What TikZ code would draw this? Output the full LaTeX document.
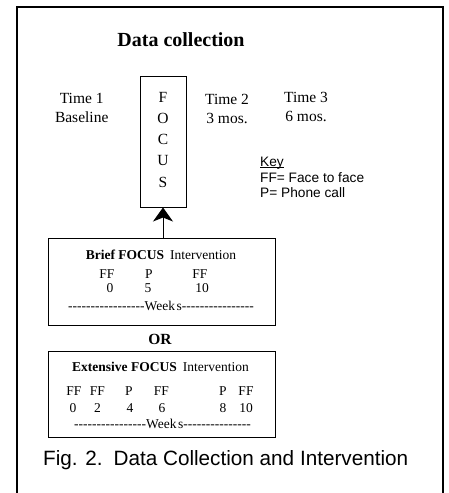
\documentclass[tikz,border=0pt]{standalone}
\usepackage{fontspec}
\setmainfont{Liberation Serif}
\setsansfont{Liberation Sans}
\usetikzlibrary{arrows.meta,positioning}
\newcommand{\hyph}[1]{\foreach \k in {1,...,#1}{-\kern0pt}}

\begin{document}
\begin{tikzpicture}[x=1pt,y=-1pt,
  lbl/.style={inner sep=0pt,anchor=base,font=\fontsize{15.5}{18}\selectfont},
  sm/.style={inner sep=0pt,anchor=base,font=\fontsize{13.5}{16}\selectfont},
  keytxt/.style={inner sep=0pt,anchor=base west,font=\sffamily\fontsize{13.7}{16}\selectfont},
  box/.style={draw,line width=1pt,inner sep=0pt}]
\useasboundingbox (0,0) rectangle (448,493);
\draw[line width=1.8pt] (17,500) -- (17,7) -- (443,7) -- (443,500);
\node[inner sep=0pt,anchor=base,font=\bfseries\fontsize{20}{24}\selectfont] (title) at (181,46.5) {Data collection};
% time points
\foreach \x/\a/\b/\y [count=\i] in {81.7/Time 1/Baseline/103,227/Time 2/3 mos./104,306/Time 3/6 mos./102}{
  \node[lbl] (ta\i) at (\x,\y) {\a}; \node[lbl] (tb\i) at (\x,\y+19) {\b};
}
\node[box,minimum width=46pt,minimum height=131pt] (focus) at (163,141.5) {};
\foreach \l [count=\i] in {F,O,C,U,S} \node[lbl] (l\i) at (163,{102+21.25*(\i-1)}) {\l};
% key
\node[keytxt] (key) at (260,166) {Key};
\draw[line width=0.8pt] ([yshift=-1.6pt]key.base west) -- ([yshift=-1.6pt]key.base east);
\node[keytxt] (kff) at (260,182) {FF= Face to face};
\node[keytxt] (kp) at (260,197) {P= Phone call};
% brief intervention
\node[box,minimum width=227pt,minimum height=87pt] (brief) at (161.5,281.5) {};
\draw[line width=1pt,-{Stealth[length=14pt,width=20pt,inset=4pt]}] (focus.south |- brief.north) -- (focus.south);
\node[sm] (btitle) at (161,259) {\textbf{Brief FOCUS}\hspace{6pt}Intervention};
\foreach \x/\t/\u/\n [count=\i] in {107/FF/110/0,149/P/148/5,200/FF/202/10}{
  \node[sm] (bv\i) at (\x,278) {\t}; \node[sm] (bw\i) at (\u,292) {\n};
}
\node[sm] (bweeks) at (161,310) {\hyph{17}Week\kern1.5pt s\hyph{16}};
\node[lbl,font=\bfseries\fontsize{15.5}{18}\selectfont] (or) at (160,344) {OR};
% extensive intervention
\node[box,minimum width=227pt,minimum height=86pt] (ext) at (161.5,394) {};
\node[sm] (etitle) at (160.5,371) {\textbf{Extensive FOCUS}\hspace{6pt}Intervention};
\foreach \x/\t/\u/\n [count=\i] in {74/FF/73/0,97.5/FF/97.5/2,129/P/130/4,161.5/FF/162/6,223/P/223/8,246/FF/246/10}{
  \node[sm] (ev\i) at (\x,395) {\t}; \node[sm] (ew\i) at (\u,412) {\n};
}
\node[sm] (eweeks) at (162.5,428) {\hyph{16}Week\kern1.5pt s\hyph{15}};
\node[inner sep=0pt,anchor=base west,font=\sffamily\fontsize{20.7}{24}\selectfont] (cap) at (43,465) {Fig. 2.\hspace{11pt}Data Collection and Intervention};
\end{tikzpicture}
\end{document}
